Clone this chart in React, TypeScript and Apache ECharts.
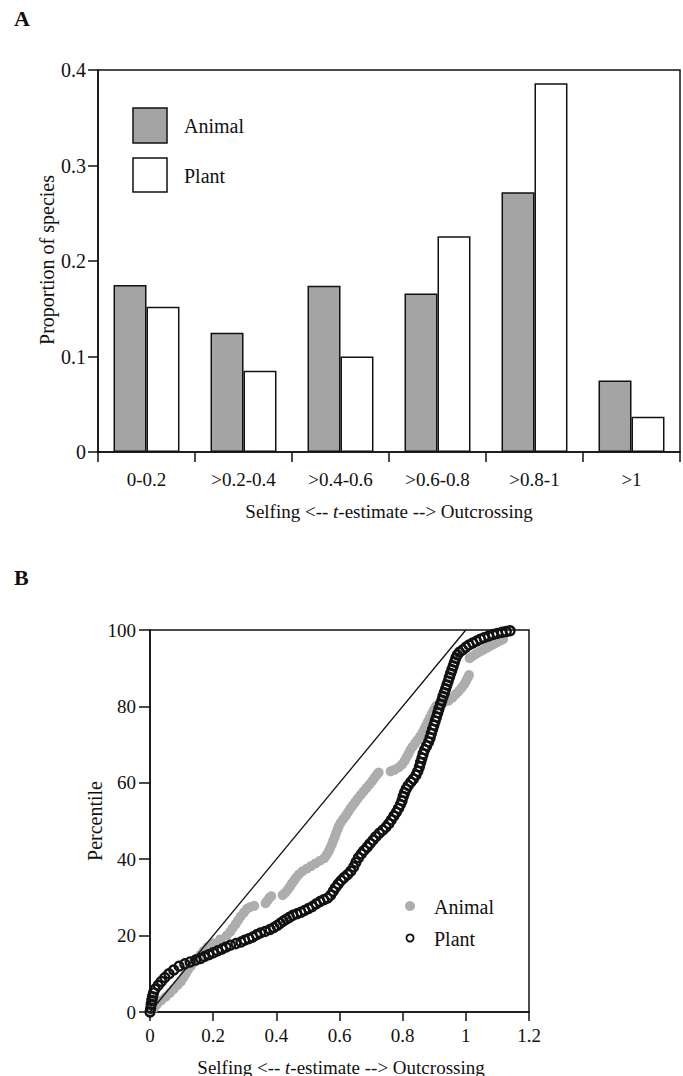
import React, { useEffect, useRef } from "react";
import * as echarts from "echarts";

const FONT = "'Liberation Serif', 'Times New Roman', serif";

// Panel A
const categories = ["0-0.2", ">0.2-0.4", ">0.4-0.6", ">0.6-0.8", ">0.8-1", ">1"];
const animalProportion = [0.175, 0.125, 0.174, 0.166, 0.272, 0.075];
const plantProportion = [0.152, 0.085, 0.1, 0.226, 0.386, 0.037];
const yTicksA = [0, 0.1, 0.2, 0.3, 0.4];

// Panel B: [t-estimate, percentile]
const animalPercentile = [
  [0, 0], [0.006, 0.5], [0.012, 1], [0.022, 2], [0.035, 3], [0.05, 4], [0.063, 5], [0.075, 6],
  [0.087, 7], [0.098, 8], [0.106, 9], [0.113, 10], [0.12, 11], [0.129, 12], [0.138, 13],
  [0.148, 14], [0.16, 15], [0.17, 16], [0.182, 17], [0.2, 18], [0.222, 19], [0.243, 20],
  [0.254, 21], [0.262, 22], [0.271, 23], [0.279, 24], [0.287, 25], [0.297, 26], [0.307, 27],
  [0.318, 27.5], [0.33, 27.8], [0.366, 28.5], [0.372, 29.2], [0.378, 29.9], [0.384, 30.3],
  [0.42, 30.6], [0.428, 31.2], [0.436, 32], [0.443, 32.8], [0.449, 33.6], [0.456, 34.4],
  [0.463, 35.2], [0.471, 36], [0.482, 36.8], [0.496, 37.5], [0.51, 38.2], [0.524, 38.9],
  [0.538, 39.6], [0.552, 40.3], [0.56, 41.2], [0.566, 42.1], [0.571, 43], [0.576, 43.9],
  [0.58, 44.8], [0.585, 45.8], [0.589, 46.8], [0.594, 47.8], [0.598, 48.7], [0.604, 49.6],
  [0.612, 50.5], [0.62, 51.4], [0.627, 52.3], [0.634, 53.2], [0.642, 54.1], [0.65, 55],
  [0.658, 55.9], [0.667, 56.8], [0.676, 57.7], [0.685, 58.6], [0.694, 59.5], [0.703, 60.4],
  [0.711, 61.3], [0.718, 62.1], [0.724, 62.7], [0.762, 63], [0.774, 63.4], [0.787, 64],
  [0.798, 64.8], [0.806, 65.7], [0.812, 66.6], [0.818, 67.5], [0.824, 68.5], [0.831, 69.4],
  [0.839, 70.3], [0.847, 71.2], [0.855, 72.1], [0.862, 73], [0.868, 74], [0.874, 75],
  [0.88, 76], [0.886, 77], [0.892, 78], [0.898, 79], [0.905, 80], [0.915, 80.7], [0.93, 81.1],
  [0.945, 81.5], [0.958, 82.3], [0.968, 83.2], [0.978, 84], [0.987, 84.9], [0.995, 85.8],
  [1.001, 86.7], [1.006, 87.5], [1.01, 88.2], [1.012, 92.6], [1.022, 93.2], [1.033, 93.8],
  [1.044, 94.3], [1.055, 94.8], [1.066, 95.3], [1.077, 95.8], [1.088, 96.3], [1.099, 96.8],
  [1.11, 97.3], [1.118, 97.6],
];

const plantPercentile = [
  [0, 0], [0.002, 1], [0.004, 2], [0.006, 3], [0.008, 4], [0.011, 5], [0.016, 6], [0.026, 7],
  [0.036, 8], [0.047, 9], [0.06, 10], [0.075, 11], [0.092, 12], [0.11, 12.6], [0.127, 13.1],
  [0.145, 13.6], [0.16, 14], [0.172, 14.5], [0.186, 15], [0.2, 15.5], [0.214, 16],
  [0.228, 16.5], [0.241, 17], [0.255, 17.5], [0.272, 17.9], [0.288, 18.3], [0.3, 18.8],
  [0.313, 19.2], [0.325, 19.6], [0.337, 20.2], [0.35, 20.7], [0.365, 21.1], [0.38, 21.6],
  [0.392, 22.1], [0.402, 22.6], [0.412, 23.2], [0.422, 23.8], [0.432, 24.3], [0.442, 24.8],
  [0.452, 25.3], [0.465, 25.7], [0.478, 26.1], [0.49, 26.6], [0.502, 27.1], [0.514, 27.6],
  [0.526, 28.3], [0.538, 28.9], [0.55, 29.4], [0.562, 29.8], [0.572, 30.6], [0.58, 31.6],
  [0.588, 32.6], [0.596, 33.5], [0.605, 34.4], [0.615, 35.2], [0.626, 36], [0.636, 36.9],
  [0.645, 38], [0.652, 39.2], [0.66, 40.4], [0.669, 41.4], [0.678, 42.3], [0.688, 43.2],
  [0.697, 44.1], [0.706, 45], [0.715, 45.9], [0.726, 46.8], [0.737, 47.6], [0.747, 48.4],
  [0.756, 49.3], [0.764, 50.3], [0.772, 51.3], [0.78, 52.3], [0.787, 53.3], [0.793, 54.3],
  [0.798, 55.3], [0.802, 56.4], [0.806, 57.4], [0.811, 58.4], [0.818, 59.3], [0.826, 60.2],
  [0.834, 61], [0.842, 62], [0.848, 63], [0.853, 64.2], [0.857, 65.3], [0.861, 66.5],
  [0.865, 67.6], [0.87, 68.7], [0.876, 69.7], [0.882, 70.7], [0.887, 71.8], [0.891, 72.9],
  [0.895, 74], [0.899, 75.1], [0.903, 76.2], [0.907, 77.2], [0.911, 78.3], [0.915, 79.4],
  [0.92, 80.5], [0.924, 81.6], [0.928, 82.6], [0.932, 83.6], [0.936, 84.6], [0.94, 85.6],
  [0.944, 86.6], [0.948, 87.6], [0.952, 88.6], [0.956, 89.6], [0.96, 90.6], [0.964, 91.6],
  [0.968, 92.6], [0.973, 93.5], [0.98, 94.2], [0.99, 94.8], [1.0, 95.5], [1.01, 96.1],
  [1.022, 96.6], [1.034, 97.1], [1.046, 97.6], [1.058, 98], [1.072, 98.4], [1.086, 98.8],
  [1.1, 99.1], [1.115, 99.4], [1.128, 99.6], [1.14, 99.8],
];

const uniformLine = [[0, 0], [1, 100]];
const xTicksB = [0, 0.2, 0.4, 0.6, 0.8, 1, 1.2];
const yTicksB = [0, 20, 40, 60, 80, 100];

const INK = "#111";
const ANIMAL_BAR = "#a4a4a4";
const ANIMAL_DOT = "#adadad";

export default function App() {
  const ref = useRef<HTMLDivElement>(null);

  useEffect(() => {
    document.body.style.margin = "0";
    const chart = echarts.init(ref.current!, null, { renderer: "svg" });
    const axisLine = { show: true, lineStyle: { color: INK, width: 1.5 } };
    const label = { color: INK, fontSize: 19, fontFamily: FONT };
    const textStyle = (extra: any) => ({
      fill: INK,
      fontSize: 19,
      fontFamily: FONT,
      ...extra,
    });

    chart.setOption({
      animation: false,
      backgroundColor: "#fff",
      textStyle: { fontFamily: FONT },
      grid: [
        { left: 98, top: 70, width: 582, height: 382, show: true, borderColor: INK, borderWidth: 1.5 },
        { left: 150, top: 630, width: 379, height: 382, show: true, borderColor: INK, borderWidth: 1.5 },
      ],
      xAxis: [
        {
          type: "category",
          gridIndex: 0,
          data: categories,
          axisLine,
          axisTick: { show: true, length: 10, lineStyle: { color: INK, width: 1.5 } },
          axisLabel: { ...label, margin: 18 },
          splitLine: { show: false },
        },
        {
          type: "value",
          gridIndex: 1,
          min: xTicksB[0],
          max: xTicksB[xTicksB.length - 1],
          interval: 0.2,
          axisLine,
          axisTick: { show: true, length: 9, lineStyle: { color: INK, width: 1.5 } },
          axisLabel: { ...label, margin: 14, formatter: (v: number) => String(Math.round(v * 10) / 10) },
          splitLine: { show: false },
        },
      ],
      yAxis: [
        {
          type: "value",
          gridIndex: 0,
          min: yTicksA[0],
          max: yTicksA[yTicksA.length - 1],
          interval: 0.1,
          axisLine,
          axisTick: { show: true, length: 10, lineStyle: { color: INK, width: 1.5 } },
          axisLabel: { ...label, fontSize: 20, margin: 12, formatter: (v: number) => String(Math.round(v * 10) / 10) },
          splitLine: { show: false },
        },
        {
          type: "value",
          gridIndex: 1,
          min: yTicksB[0],
          max: yTicksB[yTicksB.length - 1],
          interval: 20,
          axisLine,
          axisTick: { show: true, length: 11, lineStyle: { color: INK, width: 1.5 } },
          axisLabel: { ...label, margin: 14 },
          splitLine: { show: false },
        },
      ],
      series: [
        {
          name: "Animal",
          type: "bar",
          xAxisIndex: 0,
          yAxisIndex: 0,
          data: animalProportion,
          barGap: "0%",
          barCategoryGap: "32%",
          itemStyle: { color: ANIMAL_BAR, borderColor: INK, borderWidth: 1.5 },
        },
        {
          name: "Plant",
          type: "bar",
          xAxisIndex: 0,
          yAxisIndex: 0,
          data: plantProportion,
          barGap: "0%",
          barCategoryGap: "32%",
          itemStyle: { color: "#fff", borderColor: INK, borderWidth: 1.5 },
        },
        {
          name: "Uniform",
          type: "line",
          xAxisIndex: 1,
          yAxisIndex: 1,
          data: uniformLine,
          symbol: "none",
          lineStyle: { color: INK, width: 1.3 },
        },
        {
          name: "Animal t",
          type: "scatter",
          xAxisIndex: 1,
          yAxisIndex: 1,
          data: animalPercentile,
          symbolSize: 10,
          clip: false,
          itemStyle: { color: ANIMAL_DOT, opacity: 1 },
        },
        {
          name: "Plant t",
          type: "scatter",
          xAxisIndex: 1,
          yAxisIndex: 1,
          data: plantPercentile,
          symbolSize: 9,
          clip: false,
          itemStyle: { color: "rgba(255,255,255,0)", borderColor: INK, borderWidth: 2.4, opacity: 1 },
        },
      ],
      graphic: [
        {
          type: "text",
          x: 14,
          y: 18,
          style: textStyle({ text: "A", fontSize: 22, fontWeight: "bold", align: "left", verticalAlign: "middle", textAlign: "left", textVerticalAlign: "middle" }),
        },
        {
          type: "text",
          x: 14,
          y: 577,
          style: textStyle({ text: "B", fontSize: 22, fontWeight: "bold", align: "left", verticalAlign: "middle", textAlign: "left", textVerticalAlign: "middle" }),
        },
        {
          type: "text",
          x: 47,
          y: 260,
          rotation: Math.PI / 2,
          style: textStyle({ text: "Proportion of species", fontSize: 20, align: "center", verticalAlign: "middle", textAlign: "center", textVerticalAlign: "middle" }),
        },
        {
          type: "text",
          x: 389,
          y: 511,
          style: textStyle({
            text: "Selfing <-- {i|t}-estimate --> Outcrossing",
            rich: { i: { fontStyle: "italic", fontSize: 19, fontFamily: FONT, fill: INK } },
            align: "center",
            verticalAlign: "middle",
            textAlign: "center",
            textVerticalAlign: "middle",
          }),
        },
        {
          type: "text",
          x: 95,
          y: 821,
          rotation: Math.PI / 2,
          style: textStyle({ text: "Percentile", fontSize: 20, align: "center", verticalAlign: "middle", textAlign: "center", textVerticalAlign: "middle" }),
        },
        {
          type: "text",
          x: 341,
          y: 1067,
          style: textStyle({
            text: "Selfing <-- {i|t}-estimate --> Outcrossing",
            rich: { i: { fontStyle: "italic", fontSize: 19, fontFamily: FONT, fill: INK } },
            align: "center",
            verticalAlign: "middle",
            textAlign: "center",
            textVerticalAlign: "middle",
          }),
        },
        // Legend A
        {
          type: "rect",
          shape: { x: 133, y: 108, width: 34, height: 35 },
          style: { fill: ANIMAL_BAR, stroke: INK, lineWidth: 1.5 },
        },
        {
          type: "rect",
          shape: { x: 133, y: 158, width: 34, height: 34 },
          style: { fill: "#fff", stroke: INK, lineWidth: 1.5 },
        },
        {
          type: "text",
          x: 184,
          y: 126,
          style: textStyle({ text: "Animal", fontSize: 20, align: "left", verticalAlign: "middle", textAlign: "left", textVerticalAlign: "middle" }),
        },
        {
          type: "text",
          x: 184,
          y: 176,
          style: textStyle({ text: "Plant", fontSize: 20, align: "left", verticalAlign: "middle", textAlign: "left", textVerticalAlign: "middle" }),
        },
        // Legend B
        {
          type: "circle",
          shape: { cx: 410, cy: 906, r: 5 },
          style: { fill: ANIMAL_DOT },
        },
        {
          type: "circle",
          shape: { cx: 410, cy: 938, r: 3.6 },
          style: { fill: "#fff", stroke: INK, lineWidth: 1.8 },
        },
        {
          type: "text",
          x: 434,
          y: 907,
          style: textStyle({ text: "Animal", fontSize: 20, align: "left", verticalAlign: "middle", textAlign: "left", textVerticalAlign: "middle" }),
        },
        {
          type: "text",
          x: 434,
          y: 939,
          style: textStyle({ text: "Plant", fontSize: 20, align: "left", verticalAlign: "middle", textAlign: "left", textVerticalAlign: "middle" }),
        },
      ],
    });

    return () => chart.dispose();
  }, []);

  return <div ref={ref} style={{ width: 683, height: 1076 }} />;
}
